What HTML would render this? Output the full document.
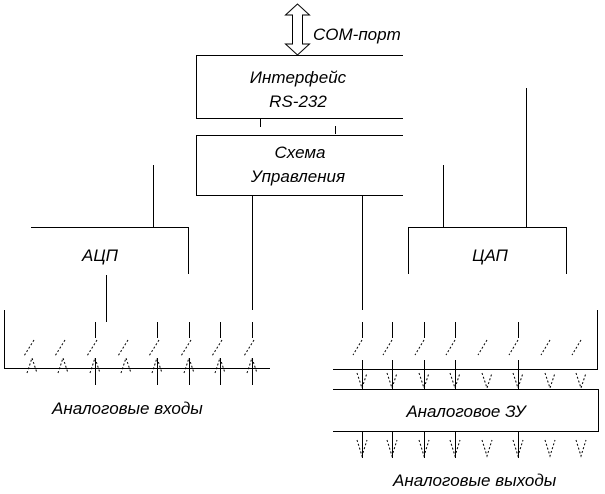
<!DOCTYPE html>
<html><head><meta charset="utf-8"><style>
html,body{margin:0;padding:0;background:#fff;}
svg{display:block}
text{font-family:"Liberation Sans",sans-serif;font-style:italic;font-size:17px;fill:#000}
</style></head><body>
<svg width="605" height="494" viewBox="0 0 605 494" xmlns="http://www.w3.org/2000/svg" shape-rendering="crispEdges">
<g stroke="#000" stroke-width="1" fill="none">
<path d="M297.5 4 L285.5 15 L292.5 15 L292.5 44 L285.5 44 L297.5 55 L309.5 44 L302.5 44 L302.5 15 L309.5 15 Z" shape-rendering="auto"/>
<path d="M403 55.5 H196.5 V118.5 H403"/>
<path d="M403 135.5 H196.5 V195.5 H403"/>
<path d="M260.5 119 V127 M335.5 126 V134"/>
<path d="M153.5 165 V227 M443.5 165 V227 M526.5 88 V227"/>
<path d="M252.5 195 V310 M362.5 195 V310"/>
<path d="M31 227.5 H188.5 V274"/>
<path d="M106.5 275 V322"/>
<path d="M408.5 274 V227.5 H566.5 V274"/>
<path d="M4.5 310 V368.5 H270"/>
<path d="M597.5 310 V369.5 H333"/>
<path d="M333 389.5 H598.5 V431.5 H333"/>
<path d="M95.5 322V338 M157.5 322V338 M189.5 322V338 M220.5 322V338 M252.5 322V338"/>
<path d="M95.5 358V385 M157.5 358V385 M189.5 358V385 M220.5 358V385 M252.5 358V385"/>
<path d="M362.5 322V338 M392.5 322V338 M424.5 322V338 M455.5 322V338 M518.5 322V338"/>
<path d="M362.5 360V389 M392.5 360V389 M424.5 360V389 M455.5 360V389 M518.5 360V389"/>
<path d="M362.5 431V458 M392.5 431V458 M424.5 431V458 M455.5 431V458 M518.5 431V458"/>
</g>
<g stroke="#000" stroke-width="1" fill="none" stroke-dasharray="2 2" shape-rendering="auto">
<path d="M34 340 L24 356 M65 340 L55 356 M97 340 L87 356 M128 340 L118 356 M159 340 L149 356 M191 340 L181 356 M222 340 L212 356 M254 340 L244 356"/>
<path d="M27 373 L32 358 L37 373 M58 373 L63 358 L68 373 M90 373 L95 358 L100 373 M121 373 L126 358 L131 373 M152 373 L157 358 L162 373 M184 373 L189 358 L194 373 M215 373 L220 358 L225 373 M247 373 L252 358 L257 373"/>
<path d="M362 340 L353 355 M392 340 L383 355 M424 340 L415 355 M455 340 L446 355 M487 340 L478 355 M518 340 L509 355 M550 340 L541 355 M581 340 L572 355"/>
<path d="M357 373 L362 388 L367 373 M387 373 L392 388 L397 373 M419 373 L424 388 L429 373 M450 373 L455 388 L460 373 M482 373 L487 388 L492 373 M513 373 L518 388 L523 373 M545 373 L550 388 L555 373 M576 373 L581 388 L586 373"/>
<path d="M357 440 L362 456 L367 440 M387 440 L392 456 L397 440 M419 440 L424 456 L429 440 M450 440 L455 456 L460 440 M482 440 L487 456 L492 440 M513 440 L518 456 L523 440 M545 440 L550 456 L555 440 M576 440 L581 456 L586 440"/>
</g>
<text x="313" y="40">COM-порт</text>
<text x="298" y="83" text-anchor="middle">Интерфейс</text>
<text x="298" y="107" text-anchor="middle">RS-232</text>
<text x="300" y="158" text-anchor="middle">Схема</text>
<text x="298" y="182" text-anchor="middle">Управления</text>
<text x="100" y="261" text-anchor="middle">АЦП</text>
<text x="490" y="261" text-anchor="middle">ЦАП</text>
<text x="52" y="414">Аналоговые входы</text>
<text x="466" y="417" text-anchor="middle">Аналоговое ЗУ</text>
<text x="393" y="486">Аналоговые выходы</text>
</svg>
</body></html>
